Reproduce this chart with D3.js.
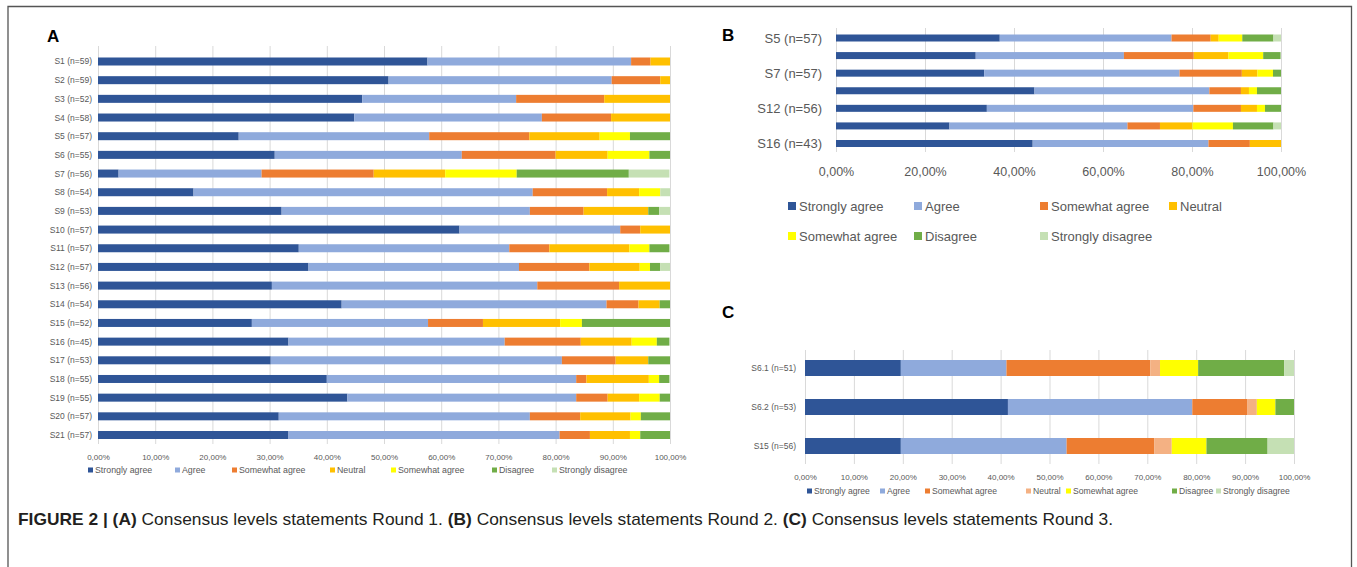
<!DOCTYPE html>
<html>
<head>
<meta charset="utf-8">
<script src="https://cdn.jsdelivr.net/npm/d3@7/dist/d3.min.js"></script>
<style>
  html, body { margin: 0; padding: 0; background: #fff; }
  svg { display: block; }
  .narrow { font-family: "Liberation Sans Narrow", "Liberation Sans", Arial, sans-serif; }
</style>
</head>
<body>
<svg id="chart" width="1357" height="567"></svg>
<script>
// ---------------- DATA ----------------
const seriesNames = ["Strongly agree", "Agree", "Somewhat agree", "Neutral", "Somewhat agree", "Disagree", "Strongly disagree"];
const seriesColorsAB = ["#2F5597", "#8FAADC", "#ED7D31", "#FFC000", "#FFFF00", "#70AD47", "#C5E0B4"];
const seriesColorsC  = ["#2F5597", "#8FAADC", "#ED7D31", "#F4B183", "#FFFF00", "#70AD47", "#C5E0B4"];

// Panel A (Round 1), percentages
const aCategories = ["S1 (n=59)","S2 (n=59)","S3 (n=52)","S4 (n=58)","S5 (n=57)","S6 (n=55)","S7 (n=56)","S8 (n=54)","S9 (n=53)","S10 (n=57)","S11 (n=57)","S12 (n=57)","S13 (n=56)","S14 (n=54)","S15 (n=52)","S16 (n=45)","S17 (n=53)","S18 (n=55)","S19 (n=55)","S20 (n=57)","S21 (n=57)"];
const aStronglyAgree    = [57.6,50.8,46.2,44.8,24.6,30.9, 3.6,16.7,32.1,63.2,35.1,36.8,30.4,42.6,26.9,33.3,30.2,40.0,43.6,31.6,33.3];
const aAgree            = [35.6,39.0,26.9,32.8,33.3,32.7,25.0,59.3,43.4,28.1,36.8,36.8,46.4,46.3,30.8,37.8,50.9,43.6,40.0,43.9,47.4];
const aSomewhatAgree    = [ 3.4, 8.5,15.4,12.1,17.5,16.4,19.6,13.0, 9.4, 3.5, 7.0,12.3,14.3, 5.6, 9.6,13.3, 9.4, 1.8, 5.5, 8.8, 5.3];
const aNeutral          = [ 3.4, 1.7,11.5,10.3,12.3, 9.1,12.5, 5.6,11.3, 5.3,14.0, 8.8, 8.9, 3.7,13.5, 8.9, 5.7,10.9, 5.5, 8.8, 7.0];
const aSomewhatAgree2   = [ 0,   0,   0,   0,   5.3, 7.3,12.5, 3.7, 0,   0,   3.5, 1.8, 0,   0,   3.8, 4.4, 0,   1.8, 3.6, 1.8, 1.8];
const aDisagree         = [ 0,   0,   0,   0,   7.0, 3.6,19.6, 0,   1.9, 0,   3.5, 1.8, 0,   1.9,15.4, 2.2, 3.8, 1.8, 1.8, 5.3, 5.3];
const aStronglyDisagree = [ 0,   0,   0,   0,   0,   0,   7.1, 1.9, 1.9, 0,   0,   1.8, 0,   0,   0,   0,   0,   0,   0,   0,   0  ];

// Panel B (Round 2)
const bCategories = ["S5 (n=57)", "", "S7 (n=57)", "", "S12 (n=56)", "", "S16 (n=43)"];
const bStronglyAgree    = [36.8,31.4,33.3,44.6,33.9,25.5,44.2];
const bAgree            = [38.6,33.3,43.9,39.3,46.4,40.0,39.5];
const bSomewhatAgree    = [ 8.8,15.7,14.0, 7.1,10.7, 7.3, 9.3];
const bNeutral          = [ 1.8, 7.8, 3.5, 1.8, 3.6, 7.3, 7.0];
const bSomewhatAgree2   = [ 5.3, 7.8, 3.5, 1.8, 1.8, 9.1, 0  ];
const bDisagree         = [ 7.0, 3.9, 1.8, 5.4, 3.6, 9.1, 0  ];
const bStronglyDisagree = [ 1.8, 0,   0,   0,   0,   1.8, 0  ];

// Panel C (Round 3)
const cCategories = ["S6.1 (n=51)", "S6.2 (n=53)", "S15 (n=56)"];
const cStronglyAgree    = [19.6,41.5,19.6];
const cAgree            = [21.6,37.7,33.9];
const cSomewhatAgree    = [29.4,11.3,17.9];
const cNeutral          = [ 2.0, 1.9, 3.6];
const cSomewhatAgree2   = [ 7.8, 3.8, 7.1];
const cDisagree         = [17.6, 3.8,12.5];
const cStronglyDisagree = [ 2.0, 0,   5.4];

const aTicks = [0,10,20,30,40,50,60,70,80,90,100];
const bTicks = [0,20,40,60,80,100];
const cTicks = [0,10,20,30,40,50,60,70,80,90,100];

const captionParts = [
  {t: "FIGURE 2 | ", b: true}, {t: "(A)", b: true}, {t: " Consensus levels statements Round 1. ", b: false},
  {t: "(B)", b: true}, {t: " Consensus levels statements Round 2. ", b: false},
  {t: "(C)", b: true}, {t: " Consensus levels statements Round 3.", b: false}
];

// ---------------- DRAW ----------------
const svg = d3.select("#chart");
const fmt = d => d.toFixed(2).replace(".", ",") + "%";
const textGray = "#595959";

// frame
svg.append("path")
  .attr("d", "M8,567 L8,6.5 L1351.5,6.5 L1351.5,567")
  .attr("fill", "none").attr("stroke", "#555").attr("stroke-width", 1.3);

function drawPanel(o) {
  const g = svg.append("g").attr("class", "narrow");
  const x = d3.scaleLinear().domain([0, 100]).range([o.x0, o.x1]);
  const y = d3.scalePoint().domain(d3.range(o.categories.length)).range([o.yFirst, o.yLast]);

  // gridlines
  g.append("g")
    .attr("transform", `translate(0,${o.gridBottom})`)
    .call(d3.axisBottom(x).tickValues(o.ticks).tickSize(-(o.gridBottom - o.gridTop)).tickFormat(""))
    .call(a => a.select(".domain").remove())
    .call(a => a.selectAll("line").attr("stroke", "#d9d9d9").attr("stroke-width", 1));

  // tick labels
  g.append("g")
    .attr("transform", `translate(0,${o.tickY})`)
    .call(d3.axisBottom(x).tickValues(o.ticks).tickSize(0).tickPadding(0).tickFormat(fmt))
    .call(a => a.select(".domain").remove())
    .call(a => a.selectAll("text").attr("fill", textGray).attr("font-size", o.tickFont)
      .attr("font-family", "Liberation Sans Narrow, Liberation Sans, sans-serif").attr("dy", "0.35em"));

  // stacked bars
  const rows = o.categories.map((c, i) => ({ i, vals: o.series.map(s => s[i]) }));
  const stack = d3.stack().keys(d3.range(o.series.length)).value((d, k) => d.vals[k]);
  const layers = stack(rows);
  g.append("g").selectAll("g").data(layers).join("g")
    .attr("fill", (d, k) => o.colors[k])
    .selectAll("rect").data(d => d).join("rect")
      .attr("x", d => x(d[0]))
      .attr("width", d => Math.max(0, x(Math.min(100, d[1])) - x(d[0])))
      .attr("y", d => y(d.data.i) - o.barH / 2)
      .attr("height", o.barH);

  // category labels
  g.append("g").selectAll("text").data(o.categories).join("text")
    .attr("x", o.labelX).attr("y", (d, i) => y(i)).attr("dy", "0.35em")
    .attr("text-anchor", "end").attr("fill", textGray).attr("font-size", o.labelFont)
    .text(d => d);

  // legend
  const lg = g.append("g");
  o.legend.forEach((p, k) => {
    lg.append("rect").attr("x", p[0]).attr("y", p[1] - o.legSq / 2).attr("width", o.legSq).attr("height", o.legSq)
      .attr("fill", o.colors[k]);
    lg.append("text").attr("x", p[0] + o.legSq + o.legGap).attr("y", p[1]).attr("dy", "0.35em")
      .attr("fill", textGray).attr("font-size", o.legFont).text(seriesNames[k]);
  });

  // panel letter
  svg.append("text").attr("x", o.letterX).attr("y", o.letterY)
    .attr("font-family", "Liberation Sans, Arial, sans-serif").attr("font-weight", "bold")
    .attr("font-size", 17).attr("fill", "#000").text(o.letter);
}

drawPanel({
  letter: "A", letterX: 47, letterY: 42,
  categories: aCategories,
  series: [aStronglyAgree, aAgree, aSomewhatAgree, aNeutral, aSomewhatAgree2, aDisagree, aStronglyDisagree],
  colors: seriesColorsAB, ticks: aTicks,
  x0: 98, x1: 670, yFirst: 61.5, yLast: 435, barH: 8,
  gridTop: 46, gridBottom: 444, tickY: 457, tickFont: 8, labelX: 92, labelFont: 8.5,
  legend: [[88,470],[175,470],[232,470],[330,470],[391,470],[492,470],[552,470]],
  legSq: 5, legGap: 2, legFont: 8.8
});

drawPanel({
  letter: "B", letterX: 722, letterY: 41,
  categories: bCategories,
  series: [bStronglyAgree, bAgree, bSomewhatAgree, bNeutral, bSomewhatAgree2, bDisagree, bStronglyDisagree],
  colors: seriesColorsAB, ticks: bTicks,
  x0: 836, x1: 1281, yFirst: 38, yLast: 143.5, barH: 7,
  gridTop: 28, gridBottom: 152, tickY: 172, tickFont: 12.5, labelX: 822, labelFont: 13,
  legend: [[788,206],[914,206],[1040,206],[1169,206],[788,236],[914,236],[1040,236]],
  legSq: 8, legGap: 3, legFont: 13
});

drawPanel({
  letter: "C", letterX: 722, letterY: 318,
  categories: cCategories,
  series: [cStronglyAgree, cAgree, cSomewhatAgree, cNeutral, cSomewhatAgree2, cDisagree, cStronglyDisagree],
  colors: seriesColorsC, ticks: cTicks,
  x0: 805, x1: 1294, yFirst: 368, yLast: 446, barH: 16,
  gridTop: 350, gridBottom: 464, tickY: 477, tickFont: 8, labelX: 796, labelFont: 8.5,
  legend: [[807,491],[880,491],[925,491],[1026,491],[1066,491],[1172,491],[1216,491]],
  legSq: 5, legGap: 2, legFont: 8.6
});

// caption
const cap = svg.append("text").attr("x", 18).attr("y", 525)
  .attr("font-family", "Liberation Sans, Arial, sans-serif").attr("font-size", 17).attr("fill", "#231f20")
  .attr("textLength", 1095).attr("lengthAdjust", "spacingAndGlyphs");
captionParts.forEach(p => cap.append("tspan").attr("font-weight", p.b ? "bold" : "normal").text(p.t));
</script>
</body>
</html>
